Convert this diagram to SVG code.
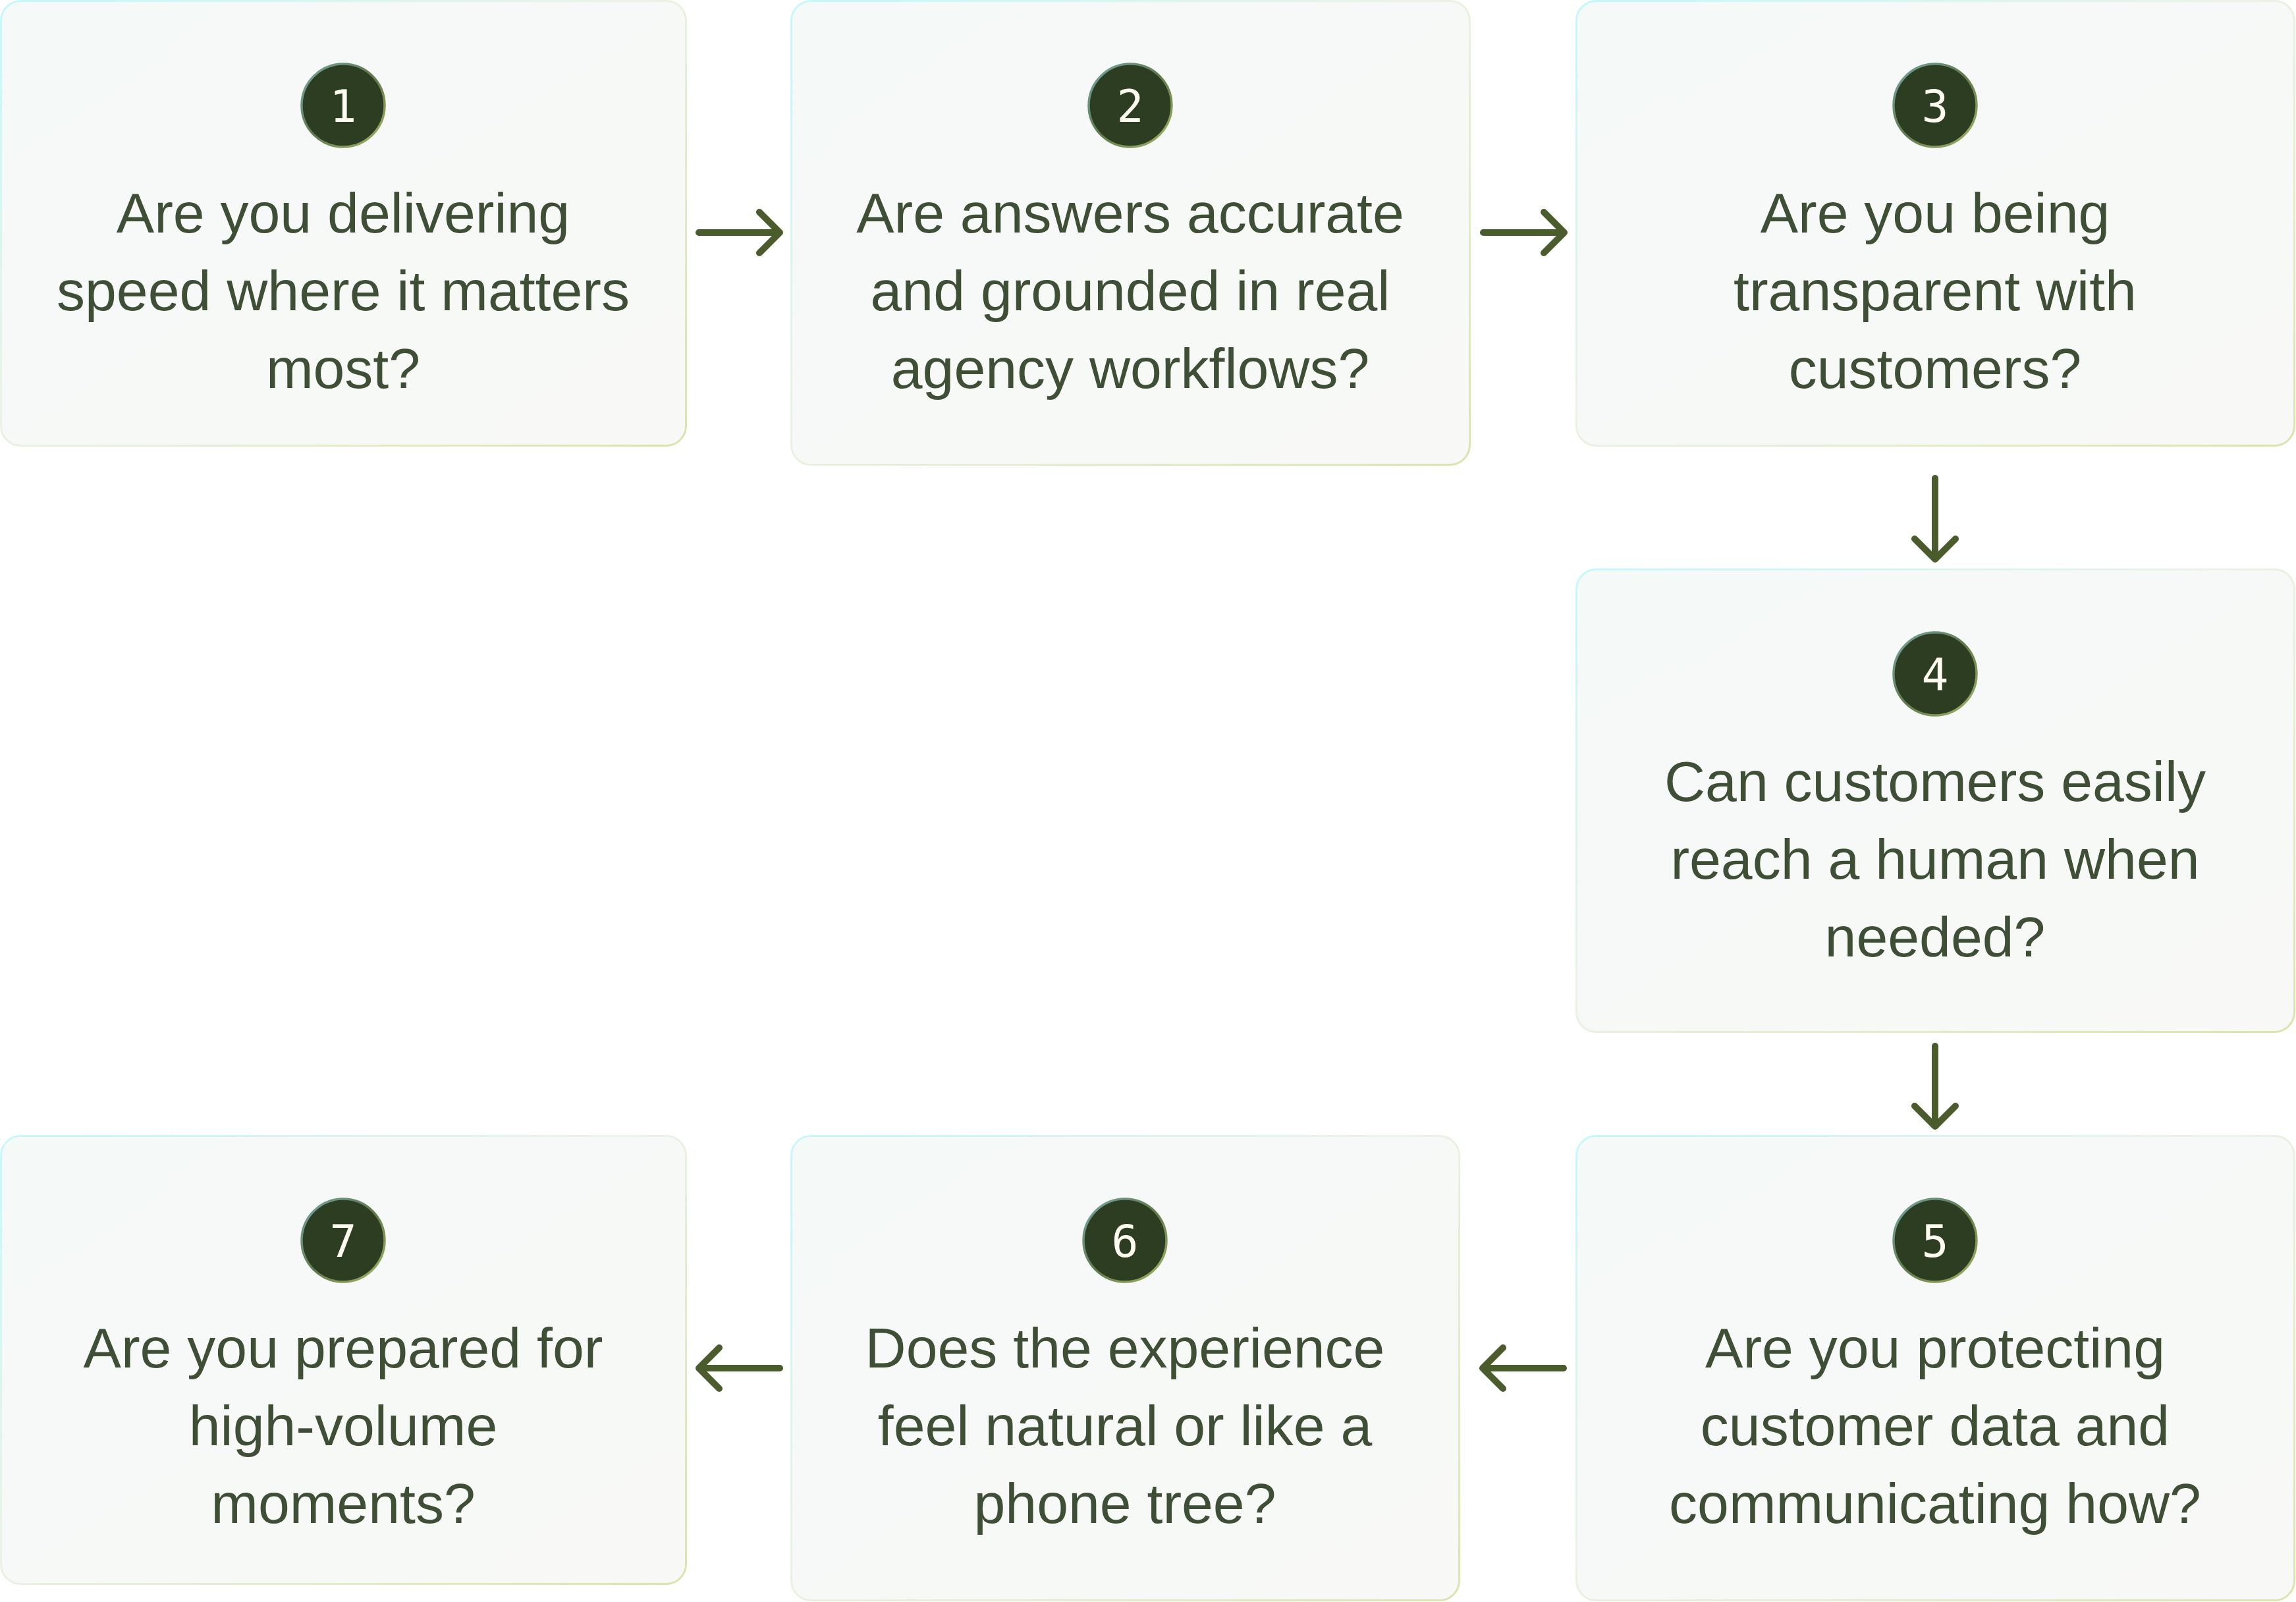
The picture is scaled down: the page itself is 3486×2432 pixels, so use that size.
<svg xmlns="http://www.w3.org/2000/svg" width="3486" height="2432" viewBox="0 0 3486 2432">
  <defs>
    <linearGradient id="boxStroke" x1="0" y1="0" x2="1" y2="1">
      <stop offset="0" stop-color="#c6f8fd"/>
      <stop offset="0.45" stop-color="#eaf3e6"/>
      <stop offset="1" stop-color="#d9e5ad"/>
    </linearGradient>
    <linearGradient id="boxFill" x1="0" y1="0" x2="1" y2="1">
      <stop offset="0" stop-color="#f5f9f8"/>
      <stop offset="1" stop-color="#f8f9f6"/>
    </linearGradient>
    <linearGradient id="circStroke" x1="0" y1="0" x2="1" y2="1">
      <stop offset="0" stop-color="#76a7a6"/>
      <stop offset="0.5" stop-color="#5f7a4a"/>
      <stop offset="1" stop-color="#a3b565"/>
    </linearGradient>
  </defs>
  <style>
    .box { fill: url(#boxFill); stroke: url(#boxStroke); stroke-width: 3; }
    .badge { fill: #2c3d22; stroke: url(#circStroke); stroke-width: 3.5; }
    .num { font-family: "DejaVu Sans Mono", "Liberation Mono", monospace; font-size: 68px; fill: #fffcf2; text-anchor: middle; }
    .q { font-family: "Liberation Sans", Arial, sans-serif; font-size: 86px; fill: #3e4f36; text-anchor: middle; }
    .conn { fill: none; stroke: #4a5b2c; stroke-width: 10; stroke-linecap: round; stroke-linejoin: round; }
  </style>

  <g id="node1">
    <rect class="box" x="1.5" y="1.5" width="1040" height="675" rx="30"/>
    <circle class="badge" cx="521" cy="160" r="63"/>
    <text class="num" x="521" y="185">1</text>
    <text class="q" x="521" y="353">Are you delivering</text>
    <text class="q" x="521" y="471">speed where it matters</text>
    <text class="q" x="521" y="589">most?</text>
  </g>

  <g id="node2">
    <rect class="box" x="1201.5" y="1.5" width="1030" height="704" rx="30"/>
    <circle class="badge" cx="1716" cy="160" r="63"/>
    <text class="num" x="1716" y="185">2</text>
    <text class="q" x="1716" y="353">Are answers accurate</text>
    <text class="q" x="1716" y="471">and grounded in real</text>
    <text class="q" x="1716" y="589">agency workflows?</text>
  </g>

  <g id="node3">
    <rect class="box" x="2393.5" y="1.5" width="1090" height="675" rx="30"/>
    <circle class="badge" cx="2938" cy="160" r="63"/>
    <text class="num" x="2938" y="185">3</text>
    <text class="q" x="2938" y="353">Are you being</text>
    <text class="q" x="2938" y="471">transparent with</text>
    <text class="q" x="2938" y="589">customers?</text>
  </g>

  <g id="node4">
    <rect class="box" x="2393.5" y="864.5" width="1090" height="702" rx="30"/>
    <circle class="badge" cx="2938" cy="1023" r="63"/>
    <text class="num" x="2938" y="1048">4</text>
    <text class="q" x="2938" y="1216">Can customers easily</text>
    <text class="q" x="2938" y="1334">reach a human when</text>
    <text class="q" x="2938" y="1452">needed?</text>
  </g>

  <g id="node5">
    <rect class="box" x="2393.5" y="1724.5" width="1090" height="705" rx="30"/>
    <circle class="badge" cx="2938" cy="1883" r="63"/>
    <text class="num" x="2938" y="1908">5</text>
    <text class="q" x="2938" y="2076">Are you protecting</text>
    <text class="q" x="2938" y="2194">customer data and</text>
    <text class="q" x="2938" y="2312">communicating how?</text>
  </g>

  <g id="node6">
    <rect class="box" x="1201.5" y="1724.5" width="1014" height="705" rx="30"/>
    <circle class="badge" cx="1708" cy="1883" r="63"/>
    <text class="num" x="1708" y="1908">6</text>
    <text class="q" x="1708" y="2076">Does the experience</text>
    <text class="q" x="1708" y="2194">feel natural or like a</text>
    <text class="q" x="1708" y="2312">phone tree?</text>
  </g>

  <g id="node7">
    <rect class="box" x="1.5" y="1724.5" width="1040" height="680" rx="30"/>
    <circle class="badge" cx="521" cy="1883" r="63"/>
    <text class="num" x="521" y="1908">7</text>
    <text class="q" x="521" y="2076">Are you prepared for</text>
    <text class="q" x="521" y="2194">high-volume</text>
    <text class="q" x="521" y="2312">moments?</text>
  </g>

  <g id="connectors">
    <path class="conn" d="M1061 353 H1184 M1153 322 L1184 353 L1153 384"/>
    <path class="conn" d="M2252 353 H2375 M2344 322 L2375 353 L2344 384"/>
    <path class="conn" d="M2938 726 V849 M2907 818 L2938 849 L2969 818"/>
    <path class="conn" d="M2938 1588 V1710 M2907 1679 L2938 1710 L2969 1679"/>
    <path class="conn" d="M2374 2077 H2251 M2282 2046 L2251 2077 L2282 2108"/>
    <path class="conn" d="M1184 2077 H1061 M1092 2046 L1061 2077 L1092 2108"/>
  </g>
</svg>
